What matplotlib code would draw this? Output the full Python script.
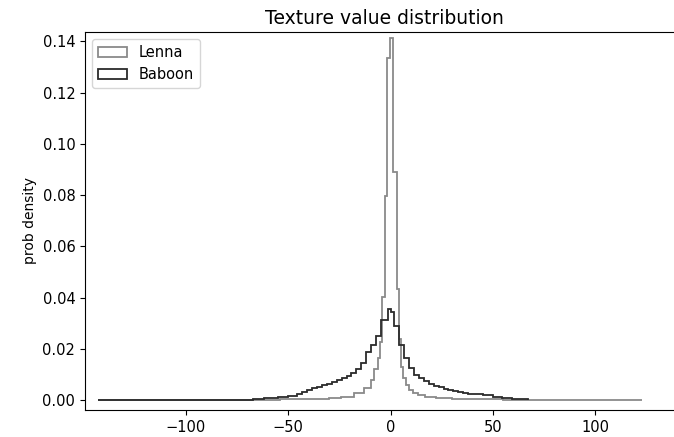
import numpy as np
import matplotlib
matplotlib.use("Agg")
import matplotlib.pyplot as plt

plt.rcParams["font.family"] = ["DejaVu Sans"]

# bin edges and density per bin
lenna_edges = [-143, -54, -40, -30, -24.3, -17.7, -12.8, -9.6, -7.9, -6.3, -5.0,
               -4.24, -2.91, -1.58, -0.25, 1.08, 3.04, 4.3, 5.3, 6.3, 7.6, 9.0,
               11.0, 13.5, 17.0, 22.0, 30.0, 40.0, 55.0, 123.0]
lenna_density = [0.0, 0.0002, 0.0004, 0.0007, 0.0012, 0.0026, 0.0048, 0.0080,
                 0.0120, 0.0165, 0.0227, 0.0403, 0.0797, 0.1336, 0.1415, 0.0889,
                 0.0434, 0.0240, 0.0130, 0.0085, 0.0058, 0.0040, 0.0028, 0.0019,
                 0.0013, 0.0008, 0.0005, 0.0003, 0.0]

baboon_edges = [-143, -67, -62, -55.1, -50.3, -45.5, -43.1, -40.7, -38.3, -35.9,
                -33.5, -31.1, -28.7, -26.3, -23.9, -21.5, -19.1, -16.7, -14.3,
                -11.9, -9.5, -7.1, -4.7, -1.4, 0.25, 1.9, 4.3, 6.7, 9.1, 11.5,
                13.9, 16.3, 18.7, 21.1, 23.5, 25.9, 28.3, 30.7, 33.1, 35.5, 37.9,
                40.3, 45.1, 49.9, 54.7, 59.5, 67.4]
baboon_density = [0.0, 0.0004, 0.0007, 0.0011, 0.0017, 0.0025, 0.0032, 0.0038,
                  0.0045, 0.0052, 0.0057, 0.0062, 0.0069, 0.0077, 0.0086, 0.0094,
                  0.0104, 0.0120, 0.0146, 0.0186, 0.0214, 0.0248, 0.0314, 0.0356,
                  0.0342, 0.0288, 0.0216, 0.0163, 0.0124, 0.0098, 0.0084, 0.0073,
                  0.0063, 0.0055, 0.0049, 0.0044, 0.0039, 0.0035, 0.0031, 0.0028,
                  0.0025, 0.0022, 0.0018, 0.0013, 0.0009, 0.0005]

series = [("Lenna", lenna_edges, lenna_density, "#8a8a8a"),
          ("Baboon", baboon_edges, baboon_density, "#2b2b2b")]

fig = plt.figure(figsize=(6.74, 4.37), dpi=100)
# the right spine sits just past the image edge in the reference
ax = fig.add_axes([0.1261, 0.0618, 0.8900, 0.865])
ax.spines["right"].set_visible(False)

for name, edges, dens, col in series:
    edges = np.asarray(edges)
    mids = (edges[:-1] + edges[1:]) / 2
    ax.hist(mids, bins=edges, weights=dens, histtype="step",
            color=col, linewidth=1.3, label=name)

ax.set_xlim(-149.3, 143.8)
ax.set_ylim(-0.0039, 0.1437)
ax.set_xticks([-100, -50, 0, 50, 100])
ax.set_yticks([0.0, 0.02, 0.04, 0.06, 0.08, 0.10, 0.12, 0.14])
ax.set_yticklabels([f"{v:.2f}" for v in ax.get_yticks()])
ax.tick_params(labelsize=10.5)

ax.set_ylabel("prob density", fontsize=10)
ax.set_title("Texture value distribution", fontsize=13.5)
ax.legend(loc="upper left", fontsize=10.5)

fig.savefig("out.png", dpi=100)
